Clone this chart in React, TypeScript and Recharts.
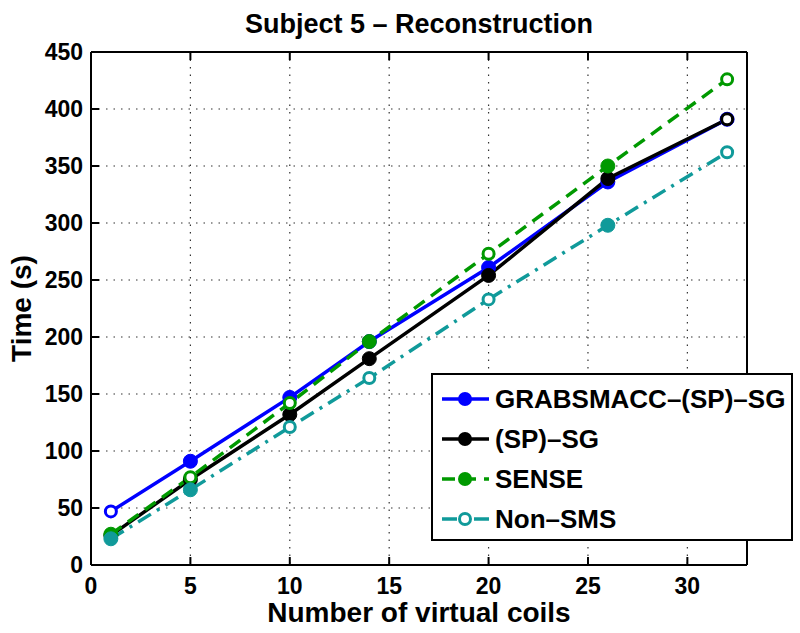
import { LineChart, Line, XAxis, YAxis, CartesianGrid, Legend } from 'recharts';

const coils = [1, 5, 10, 14, 20, 26, 32];
const grabsmacc = [47, 91, 147, 196, 261, 336, 391];
const spsg = [26, 75, 132, 181, 254, 339, 391];
const sense = [27, 77, 142, 196, 273, 350, 426];
const nonSms = [23, 66, 121, 164, 233, 298, 362];

const xTicks = [0, 5, 10, 15, 20, 25, 30];
const yTicks = [0, 50, 100, 150, 200, 250, 300, 350, 400, 450];

const FONT = '"Liberation Sans", Arial, Helvetica, sans-serif';

const series = [
  { key: 'grabsmacc', name: 'GRABSMACC–(SP)–SG', color: '#0000ff', dash: undefined, hollow: [0], legendHollow: false },
  { key: 'spsg', name: '(SP)–SG', color: '#000000', dash: undefined, hollow: [6], legendHollow: false },
  { key: 'sense', name: 'SENSE', color: '#009900', dash: '13 8', hollow: [1, 2, 4, 6], legendHollow: false },
  { key: 'nonSms', name: 'Non–SMS', color: '#109a9a', dash: '15 7 3 7', hollow: [2, 3, 4, 6], legendHollow: true },
];

const data = coils.map((c, i) => ({
  coils: c,
  grabsmacc: grabsmacc[i],
  spsg: spsg[i],
  sense: sense[i],
  nonSms: nonSms[i],
}));

const TICK_MARGIN = 8;
const TICK_LEN = 8;

function BottomTick(props: any) {
  const { x, y, payload } = props;
  const axisY = y - TICK_MARGIN;
  return (
    <g>
      <line x1={x} x2={x} y1={axisY} y2={axisY - TICK_LEN} stroke="#000" strokeWidth={2} />
      <text x={x} y={y + 21} textAnchor="middle" fontFamily={FONT} fontWeight="bold" fontSize={23} fill="#000">
        {payload.value}
      </text>
    </g>
  );
}

function LeftTick(props: any) {
  const { x, y, payload } = props;
  const axisX = x + TICK_MARGIN;
  return (
    <g>
      <line x1={axisX} x2={axisX + TICK_LEN} y1={y} y2={y} stroke="#000" strokeWidth={2} />
      <text x={x} y={y} dy={8} textAnchor="end" fontFamily={FONT} fontWeight="bold" fontSize={23} fill="#000">
        {payload.value}
      </text>
    </g>
  );
}

function TopTick(props: any) {
  const { x, y } = props;
  const axisY = y + TICK_MARGIN;
  return <line x1={x} x2={x} y1={axisY} y2={axisY + TICK_LEN} stroke="#000" strokeWidth={2} />;
}

function RightTick(props: any) {
  const { x, y } = props;
  const axisX = x - TICK_MARGIN;
  return <line x1={axisX} x2={axisX - TICK_LEN} y1={y} y2={y} stroke="#000" strokeWidth={2} />;
}

function makeDot(color: string, hollow: number[]) {
  return (p: any) => {
    const open = hollow.includes(p.index);
    return open ? (
      <circle key={p.index} cx={p.cx} cy={p.cy} r={5.5} fill="#fff" stroke={color} strokeWidth={3} />
    ) : (
      <circle key={p.index} cx={p.cx} cy={p.cy} r={7} fill={color} stroke={color} strokeWidth={1} />
    );
  };
}

function LegendBox() {
  return (
    <div
      style={{
        border: '2px solid #000',
        background: '#fff',
        boxSizing: 'border-box',
        width: 362,
        height: 168,
        padding: '4px 0 0 8px',
        fontFamily: FONT,
        fontWeight: 'bold',
        fontSize: 26,
        textAlign: 'left',
        whiteSpace: 'nowrap',
      }}
    >
      {series.map((s) => (
        <div key={s.key} style={{ display: 'flex', alignItems: 'center', height: 40 }}>
          <svg width={52} height={20} style={{ marginRight: 2 }}>
            <line x1={1} x2={48} y1={10} y2={10} stroke={s.color} strokeWidth={3.5} strokeDasharray={s.dash} />
            {s.legendHollow ? (
              <circle cx={24} cy={10} r={5.5} fill="#fff" stroke={s.color} strokeWidth={3} />
            ) : (
              <circle cx={24} cy={10} r={7} fill={s.color} />
            )}
          </svg>
          <span>{s.name}</span>
        </div>
      ))}
    </div>
  );
}

export default function App() {
  return (
    <div style={{ position: 'absolute', left: 0, top: 0, width: 800, height: 633, background: '#fff' }}>
      <LineChart width={800} height={633} data={data} margin={{ top: 0, right: 0, bottom: 0, left: 31 }}>
        <CartesianGrid stroke="#333" strokeDasharray="1.5 6" strokeWidth={1.2} />
        <XAxis
          dataKey="coils"
          type="number"
          domain={[0, 33]}
          ticks={xTicks}
          height={68}
          tickSize={0}
          tickMargin={TICK_MARGIN}
          tickLine={false}
          axisLine={{ stroke: '#000', strokeWidth: 2 }}
          tick={<BottomTick />}
          label={{
            content: (p: any) => (
              <text
                x={p.viewBox.x + p.viewBox.width / 2}
                y={p.viewBox.y + 57}
                textAnchor="middle"
                fontFamily={FONT}
                fontWeight="bold"
                fontSize={28}
                fill="#000"
              >
                Number of virtual coils
              </text>
            ),
          }}
        />
        <XAxis
          xAxisId="top"
          dataKey="coils"
          type="number"
          orientation="top"
          domain={[0, 33]}
          ticks={xTicks}
          height={52}
          tickSize={0}
          tickMargin={TICK_MARGIN}
          tickLine={false}
          axisLine={{ stroke: '#000', strokeWidth: 2 }}
          tick={<TopTick />}
          label={{
            content: (p: any) => (
              <text
                x={p.viewBox.x + p.viewBox.width / 2}
                y={p.viewBox.y + 33}
                textAnchor="middle"
                fontFamily={FONT}
                fontWeight="bold"
                fontSize={27}
                fill="#000"
              >
                Subject 5 – Reconstruction
              </text>
            ),
          }}
        />
        <YAxis
          type="number"
          domain={[0, 450]}
          ticks={yTicks}
          width={60}
          tickSize={0}
          tickMargin={TICK_MARGIN}
          tickLine={false}
          axisLine={{ stroke: '#000', strokeWidth: 2 }}
          tick={<LeftTick />}
          label={{
            content: (p: any) => {
              const cx = 21;
              const cy = p.viewBox.y + p.viewBox.height / 2;
              return (
                <text
                  x={cx}
                  y={cy}
                  transform={`rotate(-90 ${cx} ${cy})`}
                  textAnchor="middle"
                  dominantBaseline="central"
                  fontFamily={FONT}
                  fontWeight="bold"
                  fontSize={28}
                  fill="#000"
                >
                  Time (s)
                </text>
              );
            },
          }}
        />
        <YAxis
          yAxisId="right"
          orientation="right"
          type="number"
          domain={[0, 450]}
          ticks={yTicks}
          width={53}
          tickSize={0}
          tickMargin={TICK_MARGIN}
          tickLine={false}
          axisLine={{ stroke: '#000', strokeWidth: 2 }}
          tick={<RightTick />}
        />
        {series.map((s) => (
          <Line
            key={s.key}
            dataKey={s.key}
            name={s.name}
            type="linear"
            stroke={s.color}
            strokeWidth={3.5}
            strokeDasharray={s.dash}
            dot={makeDot(s.color, s.hollow)}
            activeDot={false}
            isAnimationActive={false}
          />
        ))}
        <Legend
          layout="vertical"
          align="center"
          verticalAlign="middle"
          content={<LegendBox />}
          wrapperStyle={{ position: 'absolute', left: 431, top: 373, width: 362, height: 168, bottom: 'auto', right: 'auto', margin: 0 }}
        />
      </LineChart>
    </div>
  );
}
